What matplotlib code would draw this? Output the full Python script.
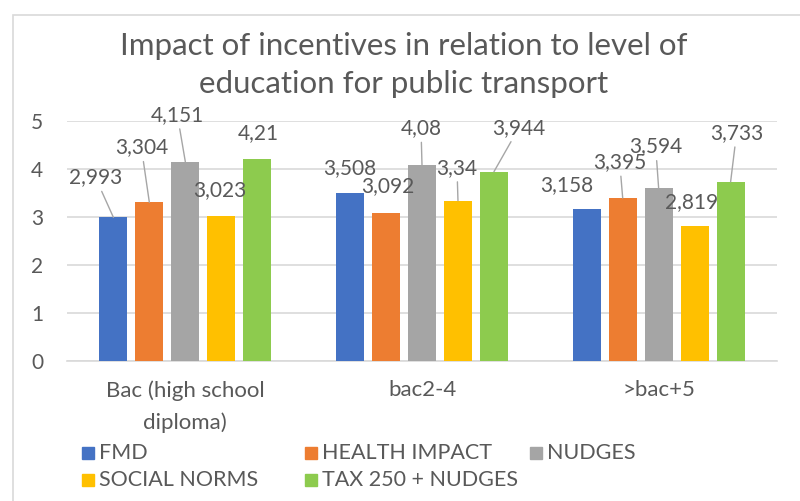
import numpy as np
import matplotlib
matplotlib.use("Agg")
import matplotlib.pyplot as plt
from matplotlib.patches import Rectangle

plt.rcParams['font.family'] = ['Lato', 'DejaVu Sans']

# ---- data ----
categories = ["Bac (high school\ndiploma)", "bac2-4", ">bac+5"]
series_names = ["FMD", "HEALTH IMPACT", "NUDGES", "SOCIAL NORMS", "TAX 250 + NUDGES"]
fmd = [2.993, 3.508, 3.158]
health_impact = [3.304, 3.092, 3.395]
nudges = [4.151, 4.08, 3.594]
social_norms = [3.023, 3.34, 2.819]
tax_nudges = [4.21, 3.944, 3.733]
series_values = [fmd, health_impact, nudges, social_norms, tax_nudges]
y_ticks = [0, 1, 2, 3, 4, 5]
title = "Impact of incentives in relation to level of\neducation for public transport"

# ---- style ----
colors = ["#4472C4", "#ED7D31", "#A5A5A5", "#FFC000", "#8DCB4E"]
text_col = "#595959"
grid_col = "#D9D9D9"

# label offsets in pixels (dx, dy) relative to bar top, and whether a leader line is drawn
label_offsets = [
    [(-18, 40, True), (0, 25, False), (-20, 24, False)],
    [(-8, 55, True), (2, 26, False), (-3, 36, True)],
    [(-8, 47, True), (-1, 37, True), (-3, 42, True)],
    [(-2, 26, False), (-1, 33, True), (-3, 24, False)],
    [(1, 26, False), (25, 44, True), (6, 49, True)],
]

W, H = 800, 501
fig = plt.figure(figsize=(W / 100, H / 100), dpi=100)
ax = fig.add_axes([67 / W, 1 - 361 / H, 710 / W, 240 / H])

x = np.arange(len(categories))
pitch = 0.152
width = 0.118
n = len(series_names)
for i, (name, vals, col) in enumerate(zip(series_names, series_values, colors)):
    xs = x + (i - (n - 1) / 2) * pitch
    ax.bar(xs, vals, width=width, color=col, label=name, zorder=3)
    for j, (xx, v) in enumerate(zip(xs, vals)):
        dx, dy, leader = label_offsets[i][j]
        txt = f"{v:g}".replace('.', ',')
        kw = {}
        if leader:
            kw['arrowprops'] = dict(arrowstyle='-', color='#A6A6A6', lw=1.0,
                                    shrinkA=1, shrinkB=0)
        ax.annotate(txt, xy=(xx, v), xytext=(dx, dy), textcoords='offset pixels',
                    ha='center', va='center', fontsize=15, color=text_col,
                    zorder=5, **kw)

ax.set_xlim(-0.5, len(categories) - 0.5)
ax.set_ylim(0, 5)
ax.set_yticks(y_ticks)
ax.set_yticklabels([str(t) for t in y_ticks])
ax.set_xticks(x)
ax.set_xticklabels(categories, linespacing=1.7)
ax.tick_params(axis='y', length=0, pad=17, labelsize=15, labelcolor=text_col)
ax.tick_params(axis='x', length=0, pad=14, labelsize=16, labelcolor=text_col)
ax.grid(axis='y', color=grid_col, lw=1.2, zorder=0)
for s in ['top', 'right', 'left']:
    ax.spines[s].set_visible(False)
ax.spines['bottom'].set_color(grid_col)
ax.spines['bottom'].set_linewidth(1.2)

fig.text(404 / W, 1 - 65 / H, title, ha='center', va='center', fontsize=22.5,
         color=text_col, linespacing=1.42)

# legend (Excel-like row-major layout)
col_x = [82, 305, 530]
row_y = [453, 480]
for k, (name, col) in enumerate(zip(series_names, colors)):
    r, c = divmod(k, 3)
    fig.patches.append(Rectangle((col_x[c] / W, 1 - (row_y[r] + 6) / H), 12 / W, 12 / H,
                                 transform=fig.transFigure, color=col))
    fig.text((col_x[c] + 17) / W, 1 - row_y[r] / H, name, ha='left', va='center',
             fontsize=15.5, color=text_col)

# chart area frame
fig.patches.append(Rectangle((13 / W, -0.5), 2, 1.5 - 15 / H, transform=fig.transFigure,
                             fill=False, edgecolor=grid_col, lw=1.2))

fig.savefig("out.png", dpi=100)
